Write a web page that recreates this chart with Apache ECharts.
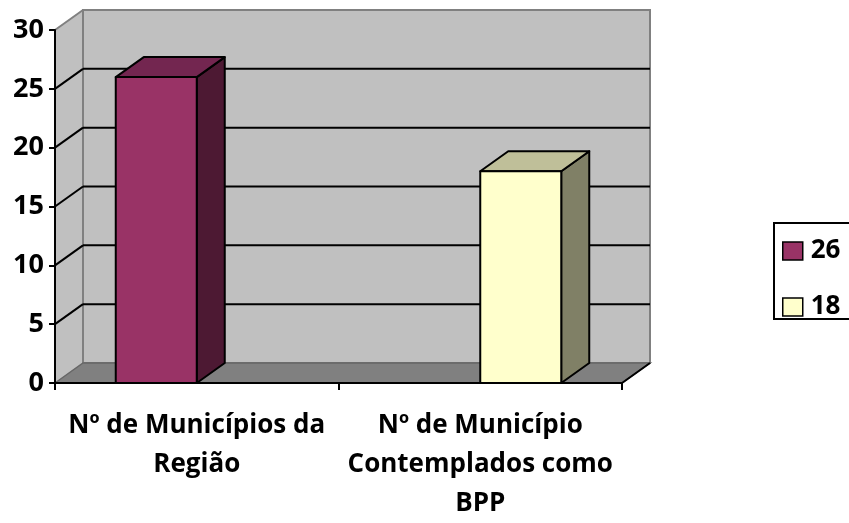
<!DOCTYPE html>
<html>
<head>
<meta charset="utf-8">
<script src="https://cdn.jsdelivr.net/npm/echarts@6/dist/echarts.min.js"></script>
<style>
  html, body { margin: 0; padding: 0; background: #fff; }
  #chart { width: 849px; height: 523px; }
</style>
</head>
<body>
<div id="chart"></div>
<script>
// categorias e valores
var categories = ['Nº de Municípios da\nRegião', 'Nº de Município\nContemplados como\nBPP'];
var seriesNames = ['26', '18'];
var values26 = [26, null];
var values18 = [null, 18];
var yTicks = [0, 5, 10, 15, 20, 25, 30];

var FONT = '"Open Sans", Lato, sans-serif';
// deslocamento da profundidade (efeito 3D)
var DX = 28, DY = -20;

var faceColors = [
    { front: '#993366', top: '#732650', side: '#4d1933' },
    { front: '#ffffcc', top: '#bfbf99', side: '#808066' }
];

var chart = echarts.init(document.getElementById('chart'));

function toData(vals) {
    return vals.map(function (v, i) { return [i, v]; })
        .filter(function (d) { return d[1] != null; });
}

// paredes, piso e linhas de grade do fundo
function renderWalls(params, api) {
    var cs = params.coordSys;
    var x = cs.x, y = cs.y, w = cs.width, h = cs.height;
    var children = [
        { type: 'polygon', shape: { points: [[x, y], [x + DX, y + DY], [x + DX, y + h + DY], [x, y + h]] },
          style: { fill: '#c0c0c0', stroke: null } },
        { type: 'rect', shape: { x: x + DX, y: y + DY, width: w, height: h },
          style: { fill: '#c0c0c0', stroke: '#808080', lineWidth: 2 } },
        { type: 'polygon', shape: { points: [[x, y + h], [x + DX, y + h + DY], [x + w + DX, y + h + DY], [x + w, y + h]] },
          style: { fill: '#808080', stroke: '#666', lineWidth: 1.5 } },
        { type: 'line', shape: { x1: x, y1: y, x2: x + DX, y2: y + DY },
          style: { stroke: '#808080', lineWidth: 2 } },
        { type: 'line', shape: { x1: x + w, y1: y + h, x2: x + w + DX, y2: y + h + DY },
          style: { stroke: '#000', lineWidth: 2 } }
    ];
    yTicks.forEach(function (v) {
        if (v === 0 || v === yTicks[yTicks.length - 1]) return;
        var yy = api.coord([0, v])[1];
        children.push({ type: 'line', shape: { x1: x + DX, y1: yy + DY, x2: x + w + DX, y2: yy + DY },
            style: { stroke: '#000', lineWidth: 2 } });
        children.push({ type: 'line', shape: { x1: x, y1: yy, x2: x + DX, y2: yy + DY },
            style: { stroke: '#000', lineWidth: 2 } });
    });
    return { type: 'group', children: children };
}

function makeBarRenderer(sIdx) {
    return function (params, api) {
        var c = api.coord([api.value(0), api.value(1)]);
        var base = api.coord([api.value(0), 0]);
        var band = api.size([1, 0])[0];
        var bw = band / 3.5;
        var left = c[0] + (sIdx === 0 ? -bw : 0);
        var top = c[1], bot = base[1];
        var col = faceColors[sIdx];
        var st = { stroke: '#000', lineWidth: 2, lineJoin: 'round' };
        return {
            type: 'group',
            children: [
                { type: 'polygon', shape: { points: [[left + bw, top], [left + bw + DX, top + DY], [left + bw + DX, bot + DY], [left + bw, bot]] },
                  style: Object.assign({ fill: col.side }, st) },
                { type: 'polygon', shape: { points: [[left, top], [left + bw, top], [left + bw + DX, top + DY], [left + DX, top + DY]] },
                  style: Object.assign({ fill: col.top }, st) },
                { type: 'rect', shape: { x: left, y: top, width: bw, height: bot - top },
                  style: Object.assign({ fill: col.front }, st) }
            ]
        };
    };
}

var option = {
    backgroundColor: '#fff',
    animation: false,
    grid: { left: 55, right: 227, top: 30, bottom: 138 },
    // moldura da legenda (passa da borda direita, como no original)
    graphic: [{
        type: 'rect', left: 773, top: 222, z: 0,
        shape: { width: 110, height: 96 },
        style: { fill: '#fff', stroke: '#000', lineWidth: 2 }
    }],
    legend: {
        data: seriesNames,
        orient: 'vertical',
        left: 773,
        top: 222,
        padding: [16, 10, 14, 9],
        itemGap: 30,
        itemWidth: 20,
        itemHeight: 18,
        icon: 'rect',
        itemStyle: { borderColor: '#000', borderWidth: 1.5 },
        textStyle: { fontFamily: FONT, fontWeight: 'bold', fontSize: 26, lineHeight: 18, color: '#000', padding: [0, 0, 0, 3] }
    },
    xAxis: {
        type: 'category',
        data: categories,
        z: 10,
        axisLine: { lineStyle: { color: '#000', width: 2 } },
        axisTick: { show: true, length: 7, lineStyle: { color: '#000', width: 2 } },
        axisLabel: {
            interval: 0, margin: 23, color: '#000',
            fontFamily: FONT, fontWeight: 'bold', fontSize: 26, lineHeight: 39
        },
        splitLine: { show: false }
    },
    yAxis: {
        type: 'value',
        min: 0, max: 30, interval: 5,
        z: 10,
        axisLine: { show: true, lineStyle: { color: '#000', width: 2 } },
        axisTick: { show: true, length: 6, lineStyle: { color: '#000', width: 2 } },
        axisLabel: { margin: 11, color: '#000', fontFamily: FONT, fontWeight: 'bold', fontSize: 27 },
        splitLine: { show: false }
    },
    series: [
        {
            name: 'walls', type: 'custom', z: 1, silent: true,
            renderItem: renderWalls, data: [[0, 0]]
        },
        {
            name: seriesNames[0], type: 'custom', z: 3,
            itemStyle: { color: faceColors[0].front },
            renderItem: makeBarRenderer(0),
            encode: { x: 0, y: 1 },
            data: toData(values26)
        },
        {
            name: seriesNames[1], type: 'custom', z: 3,
            itemStyle: { color: faceColors[1].front },
            renderItem: makeBarRenderer(1),
            encode: { x: 0, y: 1 },
            data: toData(values18)
        }
    ]
};

chart.setOption(option);
</script>
</body>
</html>
